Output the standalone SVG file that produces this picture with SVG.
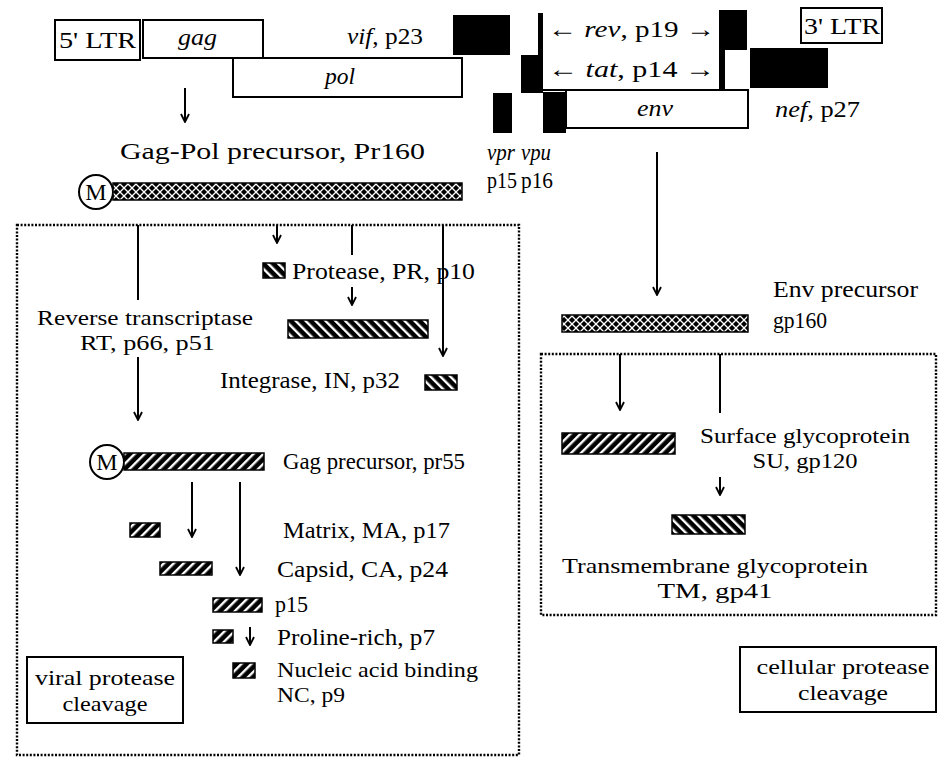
<svg xmlns="http://www.w3.org/2000/svg" width="939" height="760" viewBox="0 0 939 760">
<defs>
<style>
text{font-family:"Liberation Serif","Times New Roman",serif;font-size:24px;fill:#000}
.i{font-style:italic}
.m{text-anchor:middle}
.s{font-size:22px}
.box{fill:#fff;stroke:#000;stroke-width:2}
.blk{fill:#000}
.dot{fill:none;stroke:#000;stroke-width:2.4;stroke-dasharray:2 1.6}
.ln{stroke:#000;stroke-width:2;fill:none}
.ar{stroke:#000;stroke-width:2;fill:none;marker-end:url(#ah)}
.fw{fill:url(#fwd);stroke:#000;stroke-width:1.5}
.bk{fill:url(#bck);stroke:#000;stroke-width:1.5}
.xh{fill:url(#xh);stroke:#000;stroke-width:1.5}
.circ{fill:#fff;stroke:#000;stroke-width:2}
</style>
<pattern id="fwd" width="7" height="7" patternUnits="userSpaceOnUse" patternTransform="rotate(45)"><rect width="7" height="7" fill="#000"/><rect x="2" width="2.4" height="7" fill="#fff"/></pattern>
<pattern id="bck" width="7" height="7" patternUnits="userSpaceOnUse" patternTransform="rotate(-45)"><rect width="7" height="7" fill="#000"/><rect x="2" width="2.4" height="7" fill="#fff"/></pattern>
<pattern id="xh" width="8" height="8" patternUnits="userSpaceOnUse"><rect width="8" height="8" fill="#000"/><path d="M0,0 L8,8 M8,0 L0,8" stroke="#fff" stroke-width="1.3"/></pattern>
<marker id="ah" viewBox="0 0 10 10" refX="9" refY="5" markerWidth="10" markerHeight="10" markerUnits="userSpaceOnUse" orient="auto"><path d="M1,1 L9,5 L1,9" fill="none" stroke="#000" stroke-width="1.8"/></marker>
</defs>
<rect width="939" height="760" fill="#fff"/>

<g id="genome">
  <g id="ltr5"><rect class="box" x="55" y="20" width="85" height="40"/><text x="59" y="48" textLength="77" lengthAdjust="spacingAndGlyphs">5' LTR</text></g>
  <g id="gag"><rect class="box" x="143" y="20" width="120" height="38"/><text class="i" x="178" y="45" textLength="39" lengthAdjust="spacingAndGlyphs">gag</text></g>
  <g id="vif"><line class="ln" x1="263" y1="58" x2="453" y2="58"/><rect class="blk" x="453" y="15" width="57" height="40"/><text x="347" y="44" textLength="76" lengthAdjust="spacingAndGlyphs"><tspan class="i">vif</tspan>, p23</text></g>
  <g id="pol"><rect class="box" x="233" y="58" width="229" height="39"/><text class="i" x="325" y="84" textLength="30" lengthAdjust="spacingAndGlyphs">pol</text></g>
  <g id="vpr"><rect class="blk" x="493" y="93" width="19" height="40"/><text class="i" x="487" y="160" textLength="28" lengthAdjust="spacingAndGlyphs">vpr</text><text x="487" y="188" textLength="30" lengthAdjust="spacingAndGlyphs">p15</text></g>
  <g id="rev"><rect class="blk" x="538" y="13" width="5" height="42"/><rect class="blk" x="719" y="10" width="28" height="40"/><text x="548" y="37" textLength="167" lengthAdjust="spacingAndGlyphs">← <tspan class="i">rev</tspan>, p19 →</text></g>
  <g id="tat"><rect class="blk" x="521" y="55" width="22" height="38"/><rect class="blk" x="719" y="50" width="6" height="40"/><text x="548" y="77" textLength="167" lengthAdjust="spacingAndGlyphs">← <tspan class="i">tat</tspan>, p14 →</text></g>
  <g id="vpu"><rect class="blk" x="543" y="92" width="23" height="41"/><text class="i" x="521" y="160" textLength="30" lengthAdjust="spacingAndGlyphs">vpu</text><text x="521" y="188" textLength="32" lengthAdjust="spacingAndGlyphs">p16</text></g>
  <g id="env"><rect class="box" x="566" y="90" width="182" height="38"/><line class="ln" x1="543" y1="90" x2="566" y2="90"/><text class="i" x="637" y="116" textLength="36" lengthAdjust="spacingAndGlyphs">env</text></g>
  <g id="nef"><rect class="blk" x="750" y="48" width="78" height="40"/><text x="775" y="117" textLength="85" lengthAdjust="spacingAndGlyphs"><tspan class="i">nef</tspan>, p27</text></g>
  <g id="ltr3"><rect class="box" x="801" y="8" width="81" height="35"/><text x="804" y="34" textLength="76" lengthAdjust="spacingAndGlyphs">3' LTR</text></g>
</g>

<g id="gagpol">
  <text x="120" y="159" textLength="305" lengthAdjust="spacingAndGlyphs">Gag-Pol precursor, Pr160</text>
  <circle class="circ" cx="96" cy="192" r="17"/><text class="m" x="96" y="200">M</text>
  <rect class="xh" x="113" y="183" width="349" height="17"/>
</g>

<g id="viral-box"><rect class="dot" x="17" y="225" width="502" height="530"/></g>

<g id="protease"><rect class="bk" x="263" y="263" width="22" height="15"/><text x="292" y="279" textLength="183" lengthAdjust="spacingAndGlyphs">Protease, PR, p10</text></g>
<g id="rt-bar"><rect class="bk" x="288" y="320" width="140" height="18"/></g>
<g id="rt"><text class="s" x="37" y="325" textLength="216" lengthAdjust="spacingAndGlyphs">Reverse transcriptase</text><text class="s" x="80" y="350" textLength="135" lengthAdjust="spacingAndGlyphs">RT, p66, p51</text></g>
<g id="integrase"><text x="220" y="388" textLength="180" lengthAdjust="spacingAndGlyphs">Integrase, IN, p32</text><rect class="bk" x="425" y="375" width="32" height="15"/></g>
<g id="gagprec">
  <circle class="circ" cx="107" cy="462" r="17"/><text class="m" x="107" y="470">M</text>
  <rect class="fw" x="124" y="453" width="140" height="17"/>
  <text x="283" y="469" textLength="182" lengthAdjust="spacingAndGlyphs">Gag precursor, pr55</text>
</g>
<g id="matrix"><rect class="fw" x="130" y="523" width="30" height="14"/><text x="283" y="538" textLength="167" lengthAdjust="spacingAndGlyphs">Matrix, MA, p17</text></g>
<g id="capsid"><rect class="fw" x="160" y="562" width="52" height="13"/><text x="277" y="577" textLength="171" lengthAdjust="spacingAndGlyphs">Capsid, CA, p24</text></g>
<g id="p15"><rect class="fw" x="213" y="598" width="49" height="14"/><text x="275" y="612" textLength="33" lengthAdjust="spacingAndGlyphs">p15</text></g>
<g id="proline"><rect class="fw" x="213" y="630" width="20" height="13"/><text x="277" y="645" textLength="158" lengthAdjust="spacingAndGlyphs">Proline-rich, p7</text></g>
<g id="nc"><rect class="fw" x="233" y="663" width="22" height="15"/><text class="s" x="277" y="677" textLength="201" lengthAdjust="spacingAndGlyphs">Nucleic acid binding</text><text class="s" x="277" y="702" textLength="68" lengthAdjust="spacingAndGlyphs">NC, p9</text></g>
<g id="viral-label"><rect class="box" x="27" y="657" width="156" height="66"/><text class="m s" x="105" y="685" textLength="140" lengthAdjust="spacingAndGlyphs">viral protease</text><text class="m s" x="105" y="711" textLength="85" lengthAdjust="spacingAndGlyphs">cleavage</text></g>

<g id="envprec"><rect class="xh" x="562" y="315" width="186" height="17"/><text x="773" y="297" textLength="145" lengthAdjust="spacingAndGlyphs">Env precursor</text><text x="773" y="328" textLength="54" lengthAdjust="spacingAndGlyphs">gp160</text></g>
<g id="cellular-box"><rect class="dot" x="541" y="354" width="395" height="261"/></g>
<g id="su"><rect class="fw" x="562" y="433" width="113" height="21"/><text class="s" x="700" y="443" textLength="210" lengthAdjust="spacingAndGlyphs">Surface glycoprotein</text><text class="m s" x="805" y="468" textLength="105" lengthAdjust="spacingAndGlyphs">SU, gp120</text></g>
<g id="tm"><rect class="bk" x="672" y="515" width="73" height="19"/><text class="s" x="562" y="573" textLength="306" lengthAdjust="spacingAndGlyphs">Transmembrane glycoprotein</text><text class="m s" x="715" y="598" textLength="115" lengthAdjust="spacingAndGlyphs">TM, gp41</text></g>
<g id="cellular-label"><rect class="box" x="740" y="647" width="196" height="65"/><text class="m s" x="843" y="674" textLength="173" lengthAdjust="spacingAndGlyphs">cellular protease</text><text class="m s" x="843" y="700" textLength="90" lengthAdjust="spacingAndGlyphs">cleavage</text></g>

<g id="connectors">
  <line class="ar" x1="185" y1="88" x2="185" y2="122"/>
  <line class="ln" x1="138" y1="225" x2="138" y2="300"/>
  <line class="ar" x1="277" y1="225" x2="277" y2="243"/>
  <line class="ln" x1="352" y1="225" x2="352" y2="255"/>
  <line class="ar" x1="443" y1="225" x2="443" y2="356"/>
  <line class="ar" x1="352" y1="287" x2="352" y2="305"/>
  <line class="ar" x1="138" y1="357" x2="138" y2="420"/>
  <line class="ar" x1="192" y1="482" x2="192" y2="537"/>
  <line class="ar" x1="240" y1="482" x2="240" y2="575"/>
  <line class="ar" x1="250" y1="627" x2="250" y2="645"/>
  <line class="ar" x1="657" y1="152" x2="657" y2="295"/>
  <line class="ar" x1="620" y1="354" x2="620" y2="410"/>
  <line class="ln" x1="720" y1="354" x2="720" y2="413"/>
  <line class="ar" x1="720" y1="477" x2="720" y2="495"/>
</g>
</svg>
